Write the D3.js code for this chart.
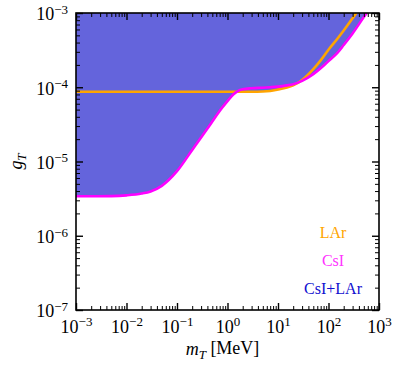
<!DOCTYPE html>
<html>
<head>
<meta charset="utf-8">
<script src="https://cdn.jsdelivr.net/npm/d3@7"></script>
<style>
body { margin: 0; background: #fff; }
text { font-family: "Liberation Serif", "DejaVu Serif", serif; }
</style>
</head>
<body>
<div id="chart"></div>
<script>
// mediator mass grid (MeV) and read-off limits on g_T
var massMeV = [0.001, 0.002, 0.005, 0.01, 0.02, 0.03, 0.05, 0.1, 0.2, 0.3, 0.5, 0.7, 1, 1.3, 1.6, 2, 3, 5, 7, 10, 15, 20, 30, 50, 70, 100, 150, 200, 300, 500, 700, 1000];
var gLAr = [8.7e-5, 8.7e-5, 8.7e-5, 8.7e-5, 8.7e-5, 8.7e-5, 8.7e-5, 8.7e-5, 8.7e-5, 8.7e-5, 8.7e-5, 8.7e-5, 8.7e-5, 8.7e-5, 8.7e-5, 8.7e-5, 8.7e-5, 8.75e-5, 8.9e-5, 9.3e-5, 9.9e-5, 1.06e-4, 1.25e-4, 1.75e-4, 2.3e-4, 3.2e-4, 4.5e-4, 5.8e-4, 8.5e-4, 1.4e-3, 2.0e-3, 2.8e-3];
var gCsI = [3.4e-6, 3.4e-6, 3.42e-6, 3.5e-6, 3.7e-6, 3.95e-6, 4.7e-6, 7.4e-6, 1.43e-5, 2.1e-5, 3.45e-5, 4.8e-5, 6.5e-5, 8.0e-5, 8.9e-5, 9.4e-5, 9.7e-5, 9.85e-5, 1.0e-4, 1.02e-4, 1.06e-4, 1.1e-4, 1.22e-4, 1.5e-4, 1.8e-4, 2.25e-4, 2.9e-4, 3.7e-4, 5.3e-4, 8.8e-4, 1.22e-3, 1.8e-3];

var xMajor = [1e-3, 1e-2, 1e-1, 1e0, 1e1, 1e2, 1e3];
var yMajor = [1e-7, 1e-6, 1e-5, 1e-4, 1e-3];
var legendLabels = ["LAr", "CsI", "CsI+LAr"];
var legendColors = ["#ffa500", "#ff33ff", "#1010d0"];

var W = 398, H = 368;
var margin = { left: 76, right: 19, top: 13, bottom: 58 };
var width = W - margin.left - margin.right;
var height = H - margin.top - margin.bottom;

var svg = d3.select("#chart").append("svg")
    .attr("width", W)
    .attr("height", H);
var g = svg.append("g")
    .attr("transform", "translate(" + margin.left + "," + margin.top + ")");

var x = d3.scaleLog().domain([1e-3, 1e3]).range([0, width]);
var y = d3.scaleLog().domain([1e-7, 1e-3]).range([height, 0]);

function minorTicks(major) {
    var out = [];
    for (var i = 0; i < major.length - 1; i++) {
        for (var k = 2; k <= 9; k++) out.push(k * major[i]);
    }
    return out;
}

g.append("clipPath").attr("id", "clip")
    .append("rect").attr("width", width).attr("height", height);

var rows = massMeV.map(function (m, i) {
    return { m: m, lar: gLAr[i], csi: gCsI[i], both: Math.min(gLAr[i], gCsI[i]) };
});

var plot = g.append("g").attr("clip-path", "url(#clip)");

var area = d3.area()
    .curve(d3.curveMonotoneX)
    .x(function (d) { return x(d.m); })
    .y0(0)
    .y1(function (d) { return y(d.both); });

plot.append("path")
    .datum(rows)
    .attr("fill", "#6464dc")
    .attr("d", area);

function lineFor(key) {
    return d3.line()
        .curve(d3.curveMonotoneX)
        .x(function (d) { return x(d.m); })
        .y(function (d) { return y(d[key]); });
}

plot.append("path")
    .datum(rows)
    .attr("fill", "none")
    .attr("stroke", "#ffa500")
    .attr("stroke-width", 2.6)
    .attr("d", lineFor("lar"));

plot.append("path")
    .datum(rows)
    .attr("fill", "none")
    .attr("stroke", "#ff00ff")
    .attr("stroke-width", 2.6)
    .attr("d", lineFor("csi"));

// ticks, pointing inward on all four sides
function powLabel(sel) {
    sel.selectAll(".tick text").each(function (d) {
        var e = Math.round(Math.log10(d));
        var t = d3.select(this).text("");
        t.append("tspan").text("10");
        t.append("tspan").attr("dy", "-0.5em").attr("font-size", "13px").text(e < 0 ? "\u2212" + (-e) : String(e));
    });
}

function styleAxis(sel, w) {
    sel.select(".domain").remove();
    sel.selectAll(".tick line").attr("stroke", "#000").attr("stroke-width", w);
}

var xAxisB = g.append("g").attr("transform", "translate(0," + height + ")")
    .call(d3.axisBottom(x).tickValues(xMajor).tickSize(-7).tickSizeOuter(0).tickPadding(10));
xAxisB.selectAll("text").attr("font-size", "18px").attr("fill", "#000");
powLabel(xAxisB);
styleAxis(xAxisB, 1.4);

var xMinB = g.append("g").attr("transform", "translate(0," + height + ")")
    .call(d3.axisBottom(x).tickValues(minorTicks(xMajor)).tickSize(-4).tickFormat(""));
styleAxis(xMinB, 1);

var xAxisT = g.append("g")
    .call(d3.axisTop(x).tickValues(xMajor).tickSize(-7).tickFormat(""));
styleAxis(xAxisT, 1.4);
var xMinT = g.append("g")
    .call(d3.axisTop(x).tickValues(minorTicks(xMajor)).tickSize(-4).tickFormat(""));
styleAxis(xMinT, 1);

var yAxisL = g.append("g")
    .call(d3.axisLeft(y).tickValues(yMajor).tickSize(-7).tickSizeOuter(0).tickPadding(8));
yAxisL.selectAll("text").attr("font-size", "18px").attr("fill", "#000").attr("dy", "0.38em");
powLabel(yAxisL);
styleAxis(yAxisL, 1.4);
var yMinL = g.append("g")
    .call(d3.axisLeft(y).tickValues(minorTicks(yMajor)).tickSize(-4).tickFormat(""));
styleAxis(yMinL, 1);

var yAxisR = g.append("g").attr("transform", "translate(" + width + ",0)")
    .call(d3.axisRight(y).tickValues(yMajor).tickSize(-7).tickFormat(""));
styleAxis(yAxisR, 1.4);
var yMinR = g.append("g").attr("transform", "translate(" + width + ",0)")
    .call(d3.axisRight(y).tickValues(minorTicks(yMajor)).tickSize(-4).tickFormat(""));
styleAxis(yMinR, 1);

g.append("rect")
    .attr("width", width)
    .attr("height", height)
    .attr("fill", "none")
    .attr("stroke", "#000")
    .attr("stroke-width", 1.6);

// axis labels
var xl = g.append("text")
    .attr("x", width / 2 - 5)
    .attr("y", height + 45)
    .attr("text-anchor", "middle")
    .attr("font-size", "18px");
xl.append("tspan").attr("font-style", "italic").text("m");
xl.append("tspan").attr("font-style", "italic").attr("font-size", "13px").attr("dy", "0.3em").text("T");
xl.append("tspan").attr("dy", "-0.25em").text(" [MeV]");

var yl = g.append("text")
    .attr("transform", "translate(" + (-54) + "," + (height / 2) + ") rotate(-90)")
    .attr("text-anchor", "middle")
    .attr("font-size", "18px");
yl.append("tspan").attr("font-style", "italic").text("g");
yl.append("tspan").attr("font-style", "italic").attr("font-size", "13px").attr("dy", "0.3em").text("T");

// legend (text only)
g.selectAll("text.legend")
    .data(legendLabels)
    .enter().append("text")
    .attr("class", "legend")
    .attr("x", 257)
    .attr("y", function (d, i) { return 225 + i * 28; })
    .attr("text-anchor", "middle")
    .attr("font-size", "16px")
    .attr("fill", function (d, i) { return legendColors[i]; })
    .text(function (d) { return d; });
</script>
</body>
</html>
